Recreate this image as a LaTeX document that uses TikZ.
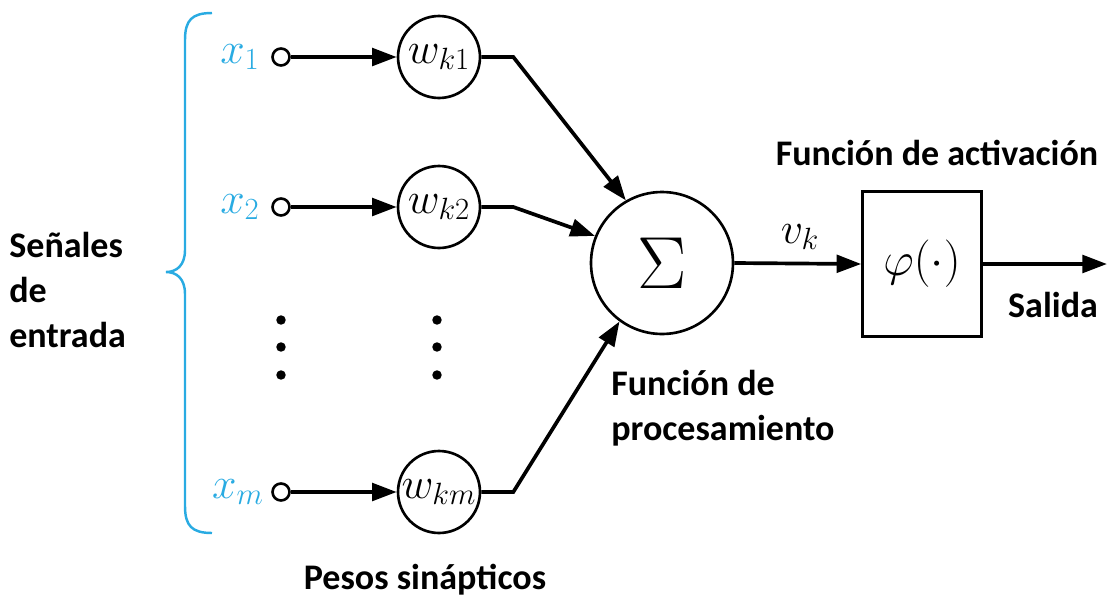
\RequirePackage{fix-cm}
\documentclass[tikz,border=0pt]{standalone}
\usepackage{fontspec}
\setmainfont{Carlito}
\usetikzlibrary{arrows.meta}
\definecolor{bluebr}{RGB}{41,171,226}
\tikzset{
  lbl/.style={font=\fontsize{20.5}{25.5}\selectfont\bfseries, align=left, inner sep=0pt},
  mth/.style={font=\fontsize{25}{28}\selectfont, inner sep=0pt},
  inp/.style={mth, text=bluebr},
  dot/.style={circle, draw=black, line width=1.5pt, minimum size=0.34cm, inner sep=0pt},
  wcirc/.style={circle, draw=black, line width=1.5pt, minimum size=1.64cm, inner sep=0pt, font=\fontsize{25}{28}\selectfont},
  arr/.style={line width=2.1pt, -{Triangle[length=14pt,width=10pt]}},
  brace/.style={draw=bluebr, line width=1.4pt}
}
\begin{document}
\begin{tikzpicture}[x=0.02cm,y=-0.02cm]
\useasboundingbox (0,0) rectangle (1107,599);
% brace
\draw[brace] (212,13) .. controls (192,13) and (185,20) .. (185,40) -- (185,250)
  .. controls (185,265) and (177,272) .. (166,272)
  .. controls (177,272) and (185,279) .. (185,294) -- (185,506)
  .. controls (185,526) and (192,533) .. (212,533);
% inputs
\node[inp] (x1) at (240,57) {$x_1$};
\node[inp] (x2) at (240,207) {$x_2$};
\node[inp] (xm) at (238,492) {$x_m$};
\node[dot] (s1) at (281,57) {};
\node[dot] (s2) at (281,207) {};
\node[dot] (sm) at (281,492) {};
\node[wcirc] (w1) at (439,57) {$w_{k1}$};
\node[wcirc] (w2) at (439,207) {$w_{k2}$};
\node[wcirc] (wm) at (439,492) {$w_{km}$};
% dots
\foreach \yy in {320,347,375}{
  \fill (281,\yy) circle (2.7pt);
  \fill (437,\yy) circle (2.7pt);
}
% summation
\node[circle, draw=black, line width=1.5pt, minimum size=2.84cm, inner sep=0pt] (sig) at (662,263) {\fontsize{42}{46}\selectfont$\Sigma$};
% activation box
\node[draw=black, line width=1.5pt, minimum width=2.38cm, minimum height=2.9cm, inner sep=0pt, font=\fontsize{27}{30}\selectfont] (phi) at (922,264) {$\varphi(\cdot)$};
\coordinate (out) at (1107,264);
% connectors
\draw[arr] (s1) -- (w1);
\draw[arr] (s2) -- (w2);
\draw[arr] (sm) -- (wm);
\draw[arr] (w1.east) -- ++(32,0) -- (sig.120);
\draw[arr] (w2.east) -- ++(32,0) -- (sig.158);
\draw[arr] (wm.east) -- ++(32,0) -- (sig.234);
\draw[arr] (sig.east) -- (phi.west);
\draw[arr] (phi.east) -- (out);
% labels
\node[mth] (vk) at (800,237) {$v_k$};
\node[lbl, anchor=west] (senales) at (9,290) {Señales\\de\\entrada};
\node[lbl, anchor=west] (proc) at (611,408) {Función de\\procesamiento};
\node[lbl] (pesos) at (425,580) {Pesos sinápticos};
\node[lbl] (act) at (937,153) {Función de activación};
\node[lbl] (sal) at (1053,305) {Salida};
\end{tikzpicture}
\end{document}
